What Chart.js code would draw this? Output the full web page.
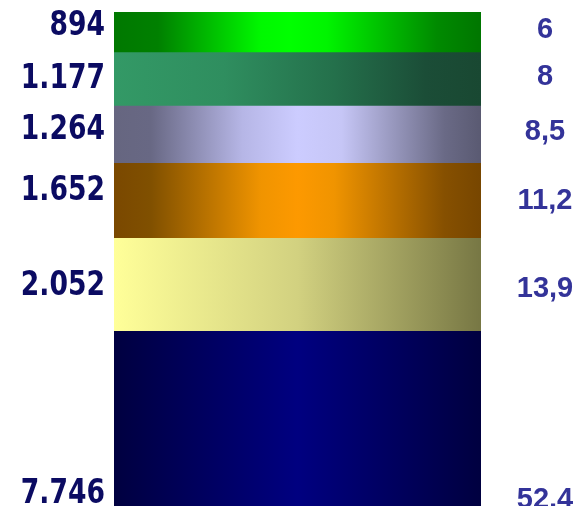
<!DOCTYPE html>
<html>
<head>
<meta charset="utf-8">
<script src="https://cdn.jsdelivr.net/npm/chart.js@4/dist/chart.umd.min.js"></script>
<style>
  html, body { margin: 0; padding: 0; background: #ffffff; }
  #chart { display: block; }
</style>
</head>
<body>
<canvas id="chart" width="578" height="506"></canvas>
<script>
// Segmentos de baixo para cima
const segments = ['A', 'B', 'C', 'D', 'E', 'F'];
const counts = [7746, 2052, 1652, 1264, 1177, 894];
const percents = [52.4, 13.9, 11.2, 8.5, 8, 6];
const axisMin = 3900; // eixo cortado na base, como no original

// Ajuste fino vertical dos rótulos (px, relativo ao centro do segmento)
const leftNudge = [-16, -2, -13, -8, -3, -9];
const rightNudge = [-10, 2, -2, -5, -5, -5];

// Degradês horizontais (offset, cor) por segmento
const gradientStops = [
    [[0, '#000040'], [0.5, '#000080'], [1, '#000040']],
    [[0, '#ffff99'], [0.5, '#d2d180'], [1, '#777744']],
    [[0, '#7a4800'], [0.1, '#805000'], [0.4, '#f09400'], [0.5, '#fd9900'], [0.6, '#f09400'], [0.9, '#865000'], [1, '#774600']],
    [[0, '#666680'], [0.1, '#686884'], [0.35, '#b6b6e6'], [0.5, '#ccccff'], [0.62, '#c6c6f6'], [0.9, '#6a6a86'], [1, '#5a5a72']],
    [[0, '#339966'], [0.3, '#2f8e5f'], [0.6, '#24704b'], [0.85, '#1b4d37'], [1, '#194832']],
    [[0, '#007800'], [0.12, '#008000'], [0.4, '#00f800'], [0.48, '#00ff00'], [0.58, '#00f400'], [0.88, '#008a00'], [1, '#007600']]
];

function fmtCount(v) {
    return String(v).replace(/\B(?=(\d{3})+(?!\d))/g, '.');
}
function fmtPct(v) {
    return String(v).replace('.', ',');
}

function makeGradient(ctx, area, stops) {
    const g = ctx.createLinearGradient(area.left, 0, area.right, 0);
    stops.forEach(([o, c]) => g.addColorStop(o, c));
    return g;
}

// Rótulos: valores à esquerda, percentuais à direita
const sideLabels = {
    id: 'sideLabels',
    afterDatasetsDraw(chart) {
        const { ctx, chartArea, scales } = chart;
        const y = scales.y;
        let cum = 0;
        ctx.save();
        counts.forEach((v, i) => {
            const lo = y.getPixelForValue(cum);
            const hi = y.getPixelForValue(cum + v);
            cum += v;
            const mid = (lo + hi) / 2;

            // valor absoluto
            const yl = mid + leftNudge[i];
            ctx.save();
            ctx.translate(chartArea.left - 9, yl + 0.729 * 28 * 1.18 / 2);
            ctx.scale(0.95, 1.18);
            ctx.font = 'bold 28px "DejaVu Sans"';
            ctx.fillStyle = '#0b0b62';
            ctx.textAlign = 'right';
            ctx.textBaseline = 'alphabetic';
            ctx.fillText(fmtCount(v), 0, 0);
            ctx.restore();

            // percentual
            const yr = mid + rightNudge[i];
            ctx.font = 'bold 29px "Liberation Sans"';
            ctx.fillStyle = '#333399';
            ctx.textAlign = 'center';
            ctx.textBaseline = 'alphabetic';
            ctx.fillText(fmtPct(percents[i]), chartArea.right + 64, yr + 0.716 * 29 / 2);
        });
        ctx.restore();
    }
};

new Chart(document.getElementById('chart'), {
    type: 'bar',
    data: {
        labels: [''],
        datasets: segments.map((s, i) => ({
            label: s,
            data: [counts[i]],
            borderWidth: 0,
            backgroundColor: (c) => {
                const area = c.chart.chartArea;
                if (!area) return gradientStops[i][1][1];
                return makeGradient(c.chart.ctx, area, gradientStops[i]);
            },
            barPercentage: 1,
            categoryPercentage: 1
        }))
    },
    options: {
        responsive: false,
        animation: false,
        layout: { padding: { left: 114, right: 97, top: 12, bottom: 0 } },
        plugins: {
            legend: { display: false },
            tooltip: { enabled: false }
        },
        scales: {
            x: { stacked: true, display: false },
            y: {
                stacked: true,
                display: false,
                min: axisMin,
                max: counts.reduce((a, b) => a + b, 0)
            }
        }
    },
    plugins: [sideLabels]
});
</script>
</body>
</html>
